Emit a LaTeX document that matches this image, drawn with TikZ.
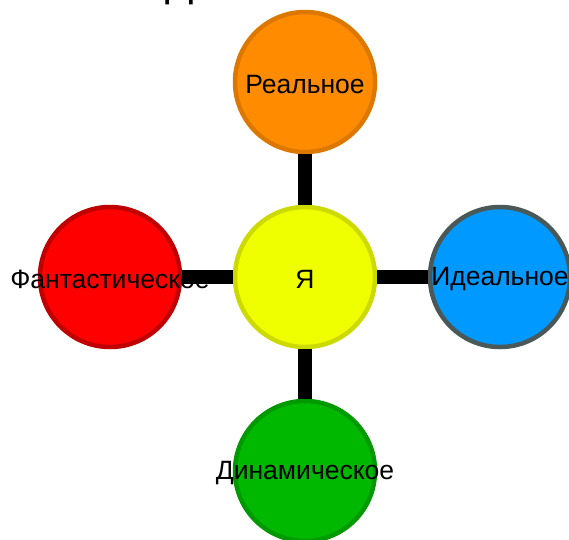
\documentclass[tikz,border=0pt]{standalone}
\usepackage{fontspec}
\setmainfont{Liberation Sans}
\usepackage{xcolor}
\usetikzlibrary{calc}
\definecolor{ink}{HTML}{000000}
\definecolor{yaFill}{HTML}{F0FF00}
\definecolor{yaLine}{HTML}{CCDA00}
\definecolor{realFill}{HTML}{FF8C00}
\definecolor{realLine}{HTML}{DC7800}
\definecolor{idealFill}{HTML}{0099FF}
\definecolor{idealLine}{HTML}{4A5858}
\definecolor{fantFill}{HTML}{FF0000}
\definecolor{fantLine}{HTML}{C00000}
\definecolor{dynFill}{HTML}{00B800}
\definecolor{dynLine}{HTML}{009A00}
\tikzset{
  selfCircle/.style={circle, minimum size=140pt, inner sep=0pt, line width=4.5pt},
  selfText/.style={text=ink, font=\fontsize{26.5}{30}\selectfont, yshift=-2.5pt},
  link/.style={draw=ink, line width=14pt, line cap=butt}
}

\begin{document}
\begin{tikzpicture}[x=1pt, y=-1pt]
  \useasboundingbox (0,0) rectangle (569,539);
  \clip (0,0) rectangle (569,539);

  % cut-off title
  \node[anchor=base, text=ink, font=\fontsize{42}{46}\selectfont, inner sep=0pt]
    (title) at (180,-4) {Д};

  % circles
  \node[selfCircle, draw=yaLine, fill=yaFill] (ya) at (305,277) {};
  \node[selfCircle, draw=realLine, fill=realFill] (real) at (305,82) {};
  \node[selfCircle, draw=idealLine, fill=idealFill] (ideal) at (500,277) {};
  \node[selfCircle, draw=fantLine, fill=fantFill] (fant) at (110,277) {};
  \node[selfCircle, draw=dynLine, fill=dynFill] (dyn) at (305,471) {};

  % labels
  \node[selfText] (yaText) at (ya) {Я};
  \node[selfText] (realText) at (real) {Реальное};
  \node[selfText] (idealText) at (ideal) {Идеальное};
  \node[selfText] (fantText) at (fant) {Фантастическое};
  \node[selfText] (dynText) at (dyn) {Динамическое};

  % connectors
  \draw[link] (ya) -- (real);
  \draw[link] (ya) -- (ideal);
  \draw[link] (ya) -- (fant);
  \draw[link] (ya) -- (dyn);
\end{tikzpicture}
\end{document}
